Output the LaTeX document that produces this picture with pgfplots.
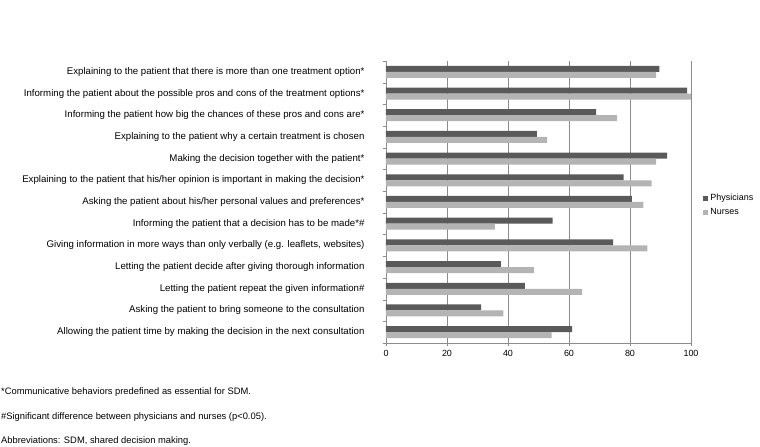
\documentclass[border=0pt]{standalone}
\usepackage{fontspec}
\setmainfont{Liberation Sans}
\usepackage{pgfplots}
\pgfplotsset{compat=1.18}

\definecolor{phys}{HTML}{5A5A5A}
\definecolor{nurse}{HTML}{B4B4B4}
\definecolor{gridc}{HTML}{8C8C8C}

\newcommand{\lblfont}{\fontsize{9.7}{11}\selectfont}
\newcommand{\notefont}{\fontsize{9.4}{11}\selectfont}
\newcommand{\smfont}{\fontsize{9}{11}\selectfont}

\begin{document}
\begin{tikzpicture}
\begin{axis}[
    xbar,
    scale only axis,
    width=305bp,
    height=282bp,
    at={(0,0)},
    anchor=south west,
    xmin=0, xmax=100,
    ymin=-0.5, ymax=12.5,
    bar width=6bp,
    xtick={0,20,...,100},
    ytick={0,...,12},
    yticklabels={
        Allowing the patient time by making the decision in the next consultation,
        Asking the patient to bring someone to the consultation,
        Letting the patient repeat the given information\#,
        Letting the patient decide after giving thorough information,
        {Giving information in more ways than only verbally (e.g. leaflets, websites)},
        Informing the patient that a decision has to be made*\#,
        Asking the patient about his/her personal values and preferences*,
        Explaining to the patient that his/her opinion is important in making the decision*,
        Making the decision together with the patient*,
        Explaining to the patient why a certain treatment is chosen,
        Informing the patient how big the chances of these pros and cons are*,
        Informing the patient about the possible pros and cons of the treatment options*,
        Explaining to the patient that there is more than one treatment option*
    },
    minor ytick={-0.5,0.5,...,12.5},
    axis x line*=bottom,
    axis y line*=left,
    axis line style={gridc, -},
    xmajorgrids,
    major grid style={gridc, line width=0.6pt},
    tick align=outside,
    major tick length=3bp,
    minor tick length=3bp,
    ytick style={draw=none},
    minor y tick style={draw=gridc},
    xtick style={gridc},
    yticklabel style={font=\lblfont, xshift=-15bp},
    xticklabel style={font=\smfont, yshift=-1bp},
    /pgf/number format/assume math mode=true,
    legend style={at={(1.04,0.535)}, anchor=north west, draw=none, fill=none,
        font=\smfont, row sep=2.5bp, inner sep=0pt},
    legend cell align=left,
    legend image code/.code={\fill[#1] (0bp,-2.5bp) rectangle (5bp,2.5bp);},
]
\addplot[fill=phys, draw=none, bar shift=3bp] coordinates {
    (89.6,12) (98.7,11) (68.9,10) (49.5,9) (92.2,8) (77.9,7) (80.6,6)
    (54.6,5) (74.5,4) (37.7,3) (45.5,2) (31.2,1) (61.0,0)
};
\addplot[fill=nurse, draw=none, bar shift=-3bp] coordinates {
    (88.6,12) (100,11) (75.8,10) (52.8,9) (88.6,8) (87.1,7) (84.4,6)
    (35.7,5) (85.7,4) (48.6,3) (64.3,2) (38.5,1) (54.3,0)
};
\legend{Physicians,Nurses}
\end{axis}
\node[anchor=west, inner sep=0pt, font=\notefont] at (-385bp,-49bp) {*Communicative behaviors predefined as essential for SDM.};
\node[anchor=west, inner sep=0pt, font=\notefont] at (-385bp,-74bp) {\#Significant difference between physicians and nurses (p<0.05).};
\node[anchor=west, inner sep=0pt, font=\notefont] at (-385bp,-98bp) {Abbreviations: SDM, shared decision making.};
\useasboundingbox (-386bp,-104bp) rectangle (374bp,343bp);
\end{tikzpicture}
\end{document}
